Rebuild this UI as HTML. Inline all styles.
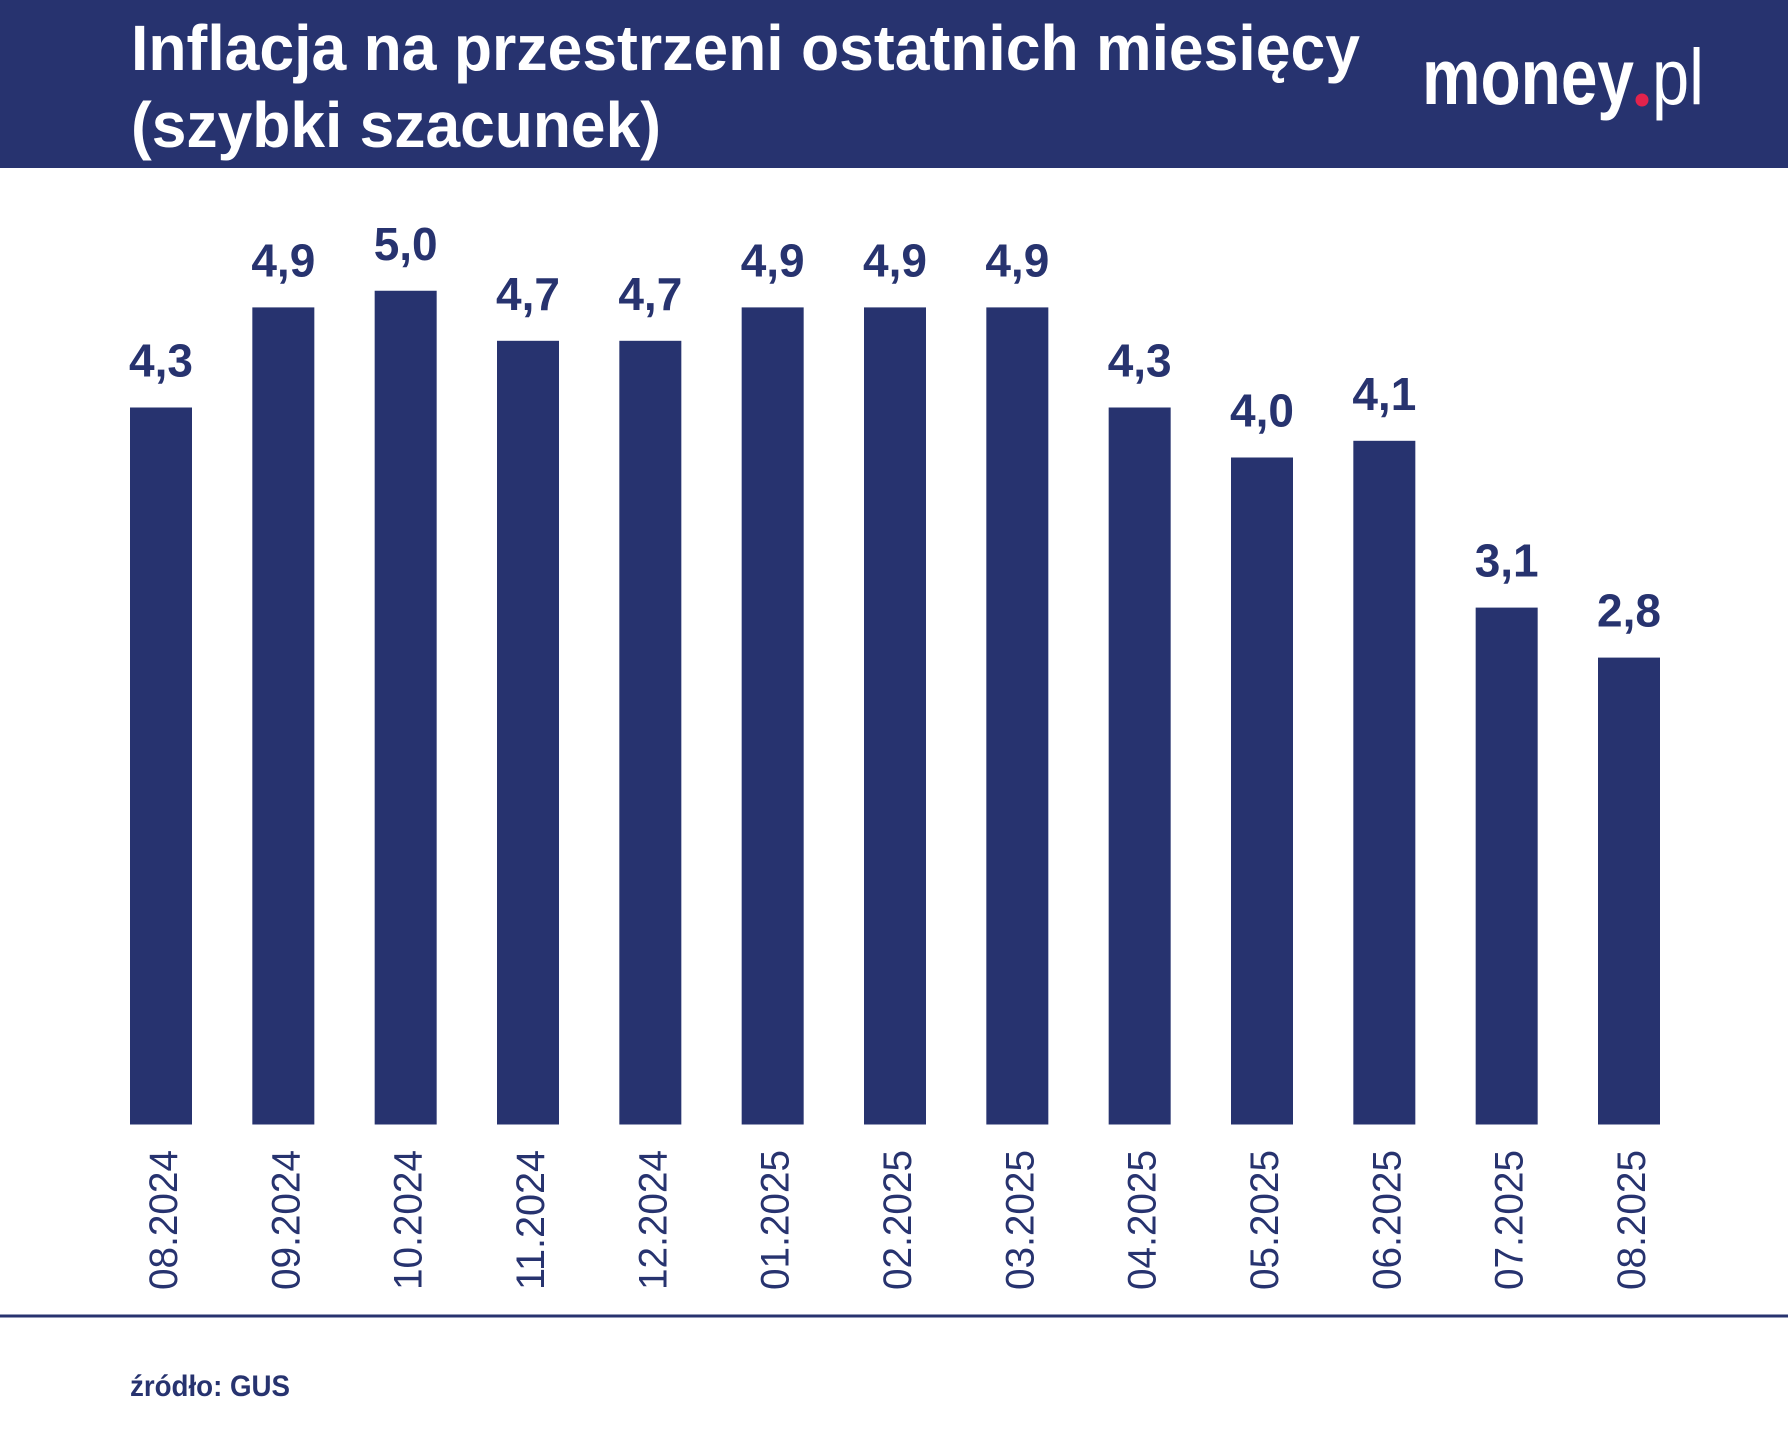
<!DOCTYPE html>
<html>
<head>
<meta charset="utf-8">
<style>
  html, body { margin: 0; padding: 0; background: #ffffff; }
  svg { display: block; }
</style>
</head>
<body>
<svg width="1788" height="1440" viewBox="0 0 1788 1440" xmlns="http://www.w3.org/2000/svg">
  <rect x="0" y="0" width="1788" height="1440" fill="#ffffff"/>
  <!-- header -->
  <rect x="0" y="0" width="1788" height="168" fill="#27336f"/>
  <g font-family="'Liberation Sans', 'DejaVu Sans', sans-serif" font-weight="bold" fill="#ffffff" font-size="64">
    <text x="131" y="70" textLength="1229" lengthAdjust="spacingAndGlyphs">Inflacja na przestrzeni ostatnich miesięcy</text>
    <text x="131" y="147" textLength="530" lengthAdjust="spacingAndGlyphs">(szybki szacunek)</text>
  </g>
  <!-- logo -->
  <g font-family="'Liberation Sans', 'DejaVu Sans', sans-serif" fill="#ffffff">
    <text x="1422" y="104" font-size="79" font-weight="bold" textLength="212" lengthAdjust="spacingAndGlyphs">money</text>
    <circle cx="1642" cy="100" r="6.5" fill="#e2234c"/>
    <text x="1652" y="104" font-size="79" font-weight="normal" textLength="52" lengthAdjust="spacingAndGlyphs">pl</text>
  </g>

  <!-- bars -->
  <g fill="#27336f">
    <rect x="130" y="407.5" width="62" height="717"/>
    <rect x="252.33" y="307.4" width="62" height="817.1"/>
    <rect x="374.67" y="290.75" width="62" height="833.75"/>
    <rect x="497" y="340.8" width="62" height="783.7"/>
    <rect x="619.33" y="340.8" width="62" height="783.7"/>
    <rect x="741.67" y="307.4" width="62" height="817.1"/>
    <rect x="864" y="307.4" width="62" height="817.1"/>
    <rect x="986.33" y="307.4" width="62" height="817.1"/>
    <rect x="1108.67" y="407.5" width="62" height="717"/>
    <rect x="1231" y="457.5" width="62" height="667"/>
    <rect x="1353.33" y="440.8" width="62" height="683.7"/>
    <rect x="1475.67" y="607.6" width="62" height="516.9"/>
    <rect x="1598" y="657.6" width="62" height="466.9"/>
  </g>

  <!-- value labels -->
  <g font-family="'Liberation Sans', 'DejaVu Sans', sans-serif" font-weight="bold" font-size="46" fill="#27336f" text-anchor="middle">
    <text x="161" y="376.5">4,3</text>
    <text x="283.33" y="276.4">4,9</text>
    <text x="405.67" y="259.75">5,0</text>
    <text x="528" y="309.8">4,7</text>
    <text x="650.33" y="309.8">4,7</text>
    <text x="772.67" y="276.4">4,9</text>
    <text x="895" y="276.4">4,9</text>
    <text x="1017.33" y="276.4">4,9</text>
    <text x="1139.67" y="376.5">4,3</text>
    <text x="1262" y="426.5">4,0</text>
    <text x="1384.33" y="409.8">4,1</text>
    <text x="1506.67" y="576.6">3,1</text>
    <text x="1629" y="626.6">2,8</text>
  </g>

  <!-- category labels (rotated) -->
  <g font-family="'Liberation Sans', 'DejaVu Sans', sans-serif" font-size="40" fill="#27336f">
    <text transform="translate(177,1290) rotate(-90)" textLength="140" lengthAdjust="spacingAndGlyphs">08.2024</text>
    <text transform="translate(299.33,1290) rotate(-90)" textLength="140" lengthAdjust="spacingAndGlyphs">09.2024</text>
    <text transform="translate(421.67,1290) rotate(-90)" textLength="140" lengthAdjust="spacingAndGlyphs">10.2024</text>
    <text transform="translate(544,1290) rotate(-90)" textLength="140" lengthAdjust="spacingAndGlyphs">11.2024</text>
    <text transform="translate(666.33,1290) rotate(-90)" textLength="140" lengthAdjust="spacingAndGlyphs">12.2024</text>
    <text transform="translate(788.67,1290) rotate(-90)" textLength="140" lengthAdjust="spacingAndGlyphs">01.2025</text>
    <text transform="translate(911,1290) rotate(-90)" textLength="140" lengthAdjust="spacingAndGlyphs">02.2025</text>
    <text transform="translate(1033.33,1290) rotate(-90)" textLength="140" lengthAdjust="spacingAndGlyphs">03.2025</text>
    <text transform="translate(1155.67,1290) rotate(-90)" textLength="140" lengthAdjust="spacingAndGlyphs">04.2025</text>
    <text transform="translate(1278,1290) rotate(-90)" textLength="140" lengthAdjust="spacingAndGlyphs">05.2025</text>
    <text transform="translate(1400.33,1290) rotate(-90)" textLength="140" lengthAdjust="spacingAndGlyphs">06.2025</text>
    <text transform="translate(1522.67,1290) rotate(-90)" textLength="140" lengthAdjust="spacingAndGlyphs">07.2025</text>
    <text transform="translate(1645,1290) rotate(-90)" textLength="140" lengthAdjust="spacingAndGlyphs">08.2025</text>
  </g>

  <!-- bottom rule -->
  <rect x="0" y="1314.5" width="1788" height="3" fill="#27336f"/>

  <!-- source -->
  <text x="130" y="1396" font-family="'Liberation Sans', 'DejaVu Sans', sans-serif" font-weight="bold" font-size="30" fill="#27336f" textLength="160" lengthAdjust="spacingAndGlyphs">źródło: GUS</text>
</svg>
</body>
</html>
